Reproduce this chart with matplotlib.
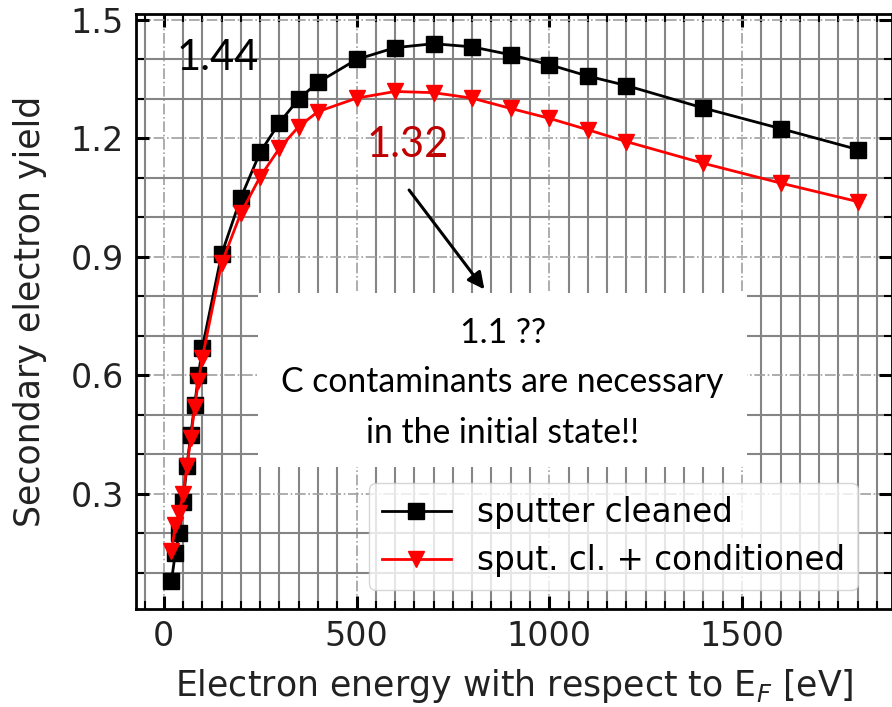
import numpy as np
import matplotlib
matplotlib.use("Agg")
import matplotlib.pyplot as plt
from matplotlib.ticker import MultipleLocator
from matplotlib.patches import Rectangle

# data
energy = [20, 30, 40, 50, 60, 70, 80, 90, 100, 150, 200, 250, 300, 350, 400,
          500, 600, 700, 800, 900, 1000, 1100, 1200, 1400, 1600, 1800]
sey_clean = [0.08, 0.15, 0.20, 0.28, 0.37, 0.45, 0.525, 0.60, 0.67, 0.907, 1.05,
             1.165, 1.24, 1.30, 1.342, 1.40, 1.43, 1.44, 1.432, 1.412, 1.387,
             1.358, 1.334, 1.277, 1.225, 1.172]
sey_cond = [0.155, 0.22, 0.25, 0.30, 0.37, 0.44, 0.52, 0.585, 0.645, 0.884, 1.011,
            1.103, 1.175, 1.23, 1.268, 1.302, 1.319, 1.316, 1.302, 1.276, 1.251,
            1.222, 1.192, 1.137, 1.087, 1.04]
labels = ["sputter cleaned", "sput. cl. + conditioned"]
box_lines = ["1.1 ??", "C contaminants are necessary", "in the initial state!!"]

plt.rcParams["font.family"] = "DejaVu Sans"

fig = plt.figure(figsize=(8.92, 7.07), dpi=100)
ax = fig.add_axes([0.1525, 0.1386, 0.8475, 0.8409])

ax.plot(energy, sey_clean, "-s", color="black", lw=2, ms=11.5, label=labels[0], zorder=3)
ax.plot(energy, sey_cond, "-v", color="red", lw=2, ms=12, label=labels[1], zorder=3)

ax.set_xlim(-72, 1889)
ax.set_ylim(0.008, 1.514)
ax.xaxis.set_major_locator(MultipleLocator(500))
ax.xaxis.set_minor_locator(MultipleLocator(50))
ax.yaxis.set_major_locator(MultipleLocator(0.3))
ax.yaxis.set_minor_locator(MultipleLocator(0.1))

ax.grid(which="major", color="#a0a0a0", ls="-.", lw=1.2, zorder=0)
ax.grid(which="minor", color="#858585", ls="-", lw=1.5, zorder=0)
ax.set_axisbelow(True)

ax.tick_params(which="both", direction="in", top=True, right=True, labelsize=24,
               labelcolor="#222222")
ax.tick_params(which="major", length=9.5, width=2.2)
ax.tick_params(axis="y", which="major", pad=9)
ax.tick_params(axis="x", which="major", pad=8)
ax.tick_params(which="minor", length=5.5, width=1.5)
for s in ax.spines.values():
    s.set_linewidth(2)

ax.set_xlabel("Electron energy with respect to E$_F$ [eV]", fontsize=25, color="#222222")
ax.set_ylabel("Secondary electron yield", fontsize=25, color="#222222")
ax.xaxis.set_label_coords(0.5, -0.098)
ax.yaxis.set_label_coords(-0.118, 0.5)

leg = ax.legend(loc="lower right", bbox_to_anchor=(0.955, 0.032), borderaxespad=0,
                fontsize=23.5, handlelength=2.1, framealpha=0.8, edgecolor="#cccccc",
                labelspacing=0.45)
leg.set_zorder(6)

# powerpoint style annotations
calib = "Lato"
ax.text(34, 1.404, "1.44", fontsize=30, family=calib, color="black", va="center", zorder=4)
ax.text(525, 1.184, "1.32", fontsize=30, family=calib, color="#c00000", va="center", zorder=4)
ax.annotate("", xy=(836, 0.812), xytext=(632, 1.075),
            arrowprops=dict(arrowstyle="-|>", lw=2.2, color="black", mutation_scale=25),
            zorder=4)
ax.add_patch(Rectangle((244, 0.368), 1513 - 244, 0.809 - 0.368, facecolor="white",
                       edgecolor="none", zorder=5))
for yy, line in zip([0.708, 0.584, 0.454], box_lines):
    ax.text(879, yy, line, fontsize=24.3, family=calib, color="black",
            ha="center", va="center", zorder=6)

fig.savefig("out.png", dpi=100)
